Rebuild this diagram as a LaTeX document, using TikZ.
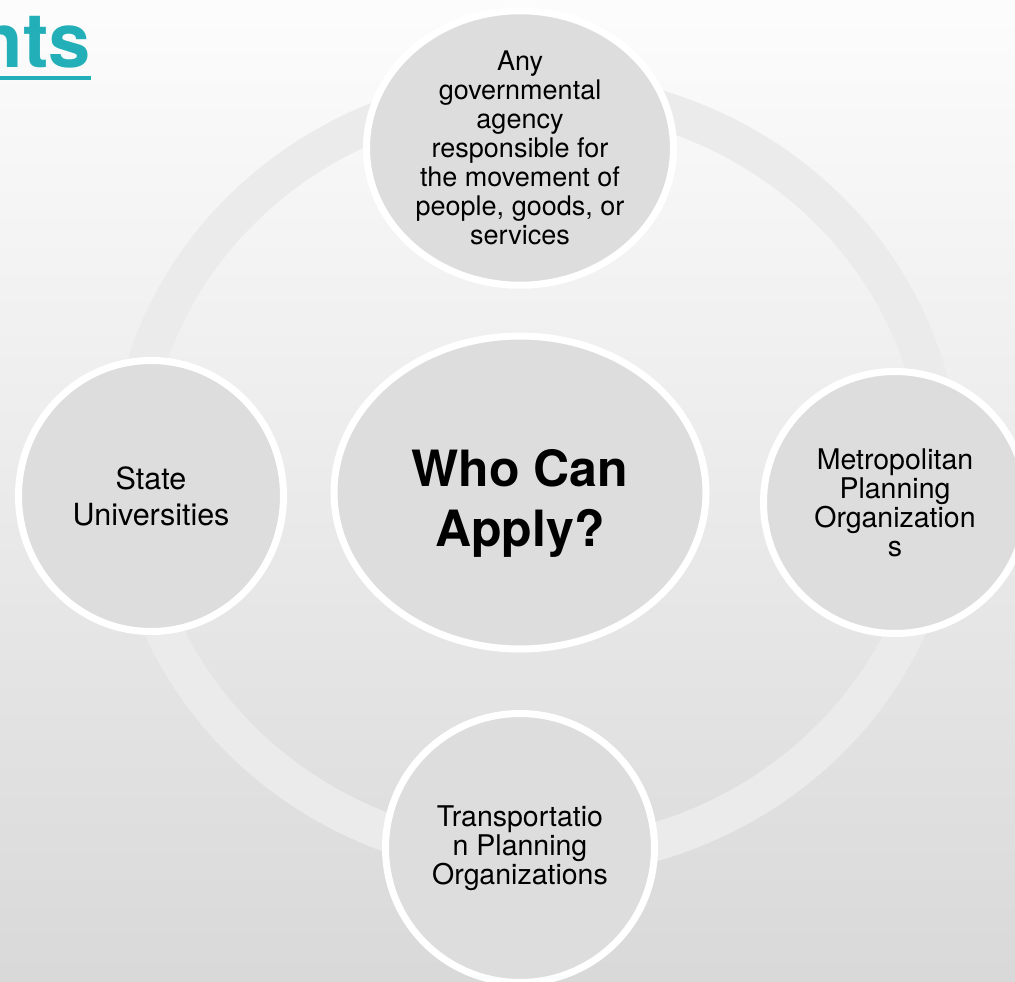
\documentclass[tikz,border=0pt]{standalone}
\usepackage{fontspec}
\setmainfont{TeX Gyre Heros}
\usetikzlibrary{shapes.geometric}

\definecolor{titleteal}{HTML}{22AFB8}
\definecolor{bubblegray}{HTML}{DDDDDD}
\definecolor{ringgray}{HTML}{EBEBEB}

\begin{document}
\begin{tikzpicture}[x=1pt,y=-1pt,
    bubble/.style={ellipse,draw=white,line width=7pt,fill=bubblegray,
        inner sep=0pt,align=center,text=black},
    small/.style={font=\fontsize{28.5}{29}\selectfont}]
    % Page and background
    \useasboundingbox (0,0) rectangle (1015,982);
    \clip (0,0) rectangle (1015,982);
    \shade[top color=white!99!black,middle color=white!94!black,
        bottom color=white!85!black] (0,0) rectangle (1015,982);

    % Ring behind the bubbles
    \draw[ringgray,line width=38pt] (535,475) ellipse [x radius=406,y radius=384];

    % Title, cut off at the left edge
    \node[anchor=base east,inner sep=0pt,text=titleteal,
        font=\fontsize{76}{80}\bfseries\selectfont] (title) at (91,68) {nts};
    \draw[titleteal,line width=4pt] ([yshift=-10pt]title.base west)
        -- ([yshift=-10pt]title.base east);

    % Hub
    \node[bubble,minimum width=372pt,minimum height=313pt,
        text height=107pt,text depth=0pt,
        font=\fontsize{50}{60}\bfseries\selectfont] (hub) at (520,492.5)
        {Who Can\\Apply?};

    % Satellites
    \node[bubble,minimum width=307pt,minimum height=274pt,
        font=\fontsize{27}{29}\selectfont] (agency) at (520,148)
        {Any\\governmental\\agency\\responsible for\\the movement of\\people, goods, or\\services};
    \node[bubble,minimum width=265pt,minimum height=271pt,
        font=\fontsize{30.5}{36}\selectfont] (univ) at (151,496)
        {State\\Universities};
    \node[bubble,small,minimum width=263pt,minimum height=262pt] (mpo) at (895,502.5)
        {Metropolitan\\Planning\\Organization\\s};
    \node[bubble,small,minimum width=269pt,minimum height=269pt] (tpo) at (520,848)
        {Transportatio\\n Planning\\Organizations};
\end{tikzpicture}
\end{document}
